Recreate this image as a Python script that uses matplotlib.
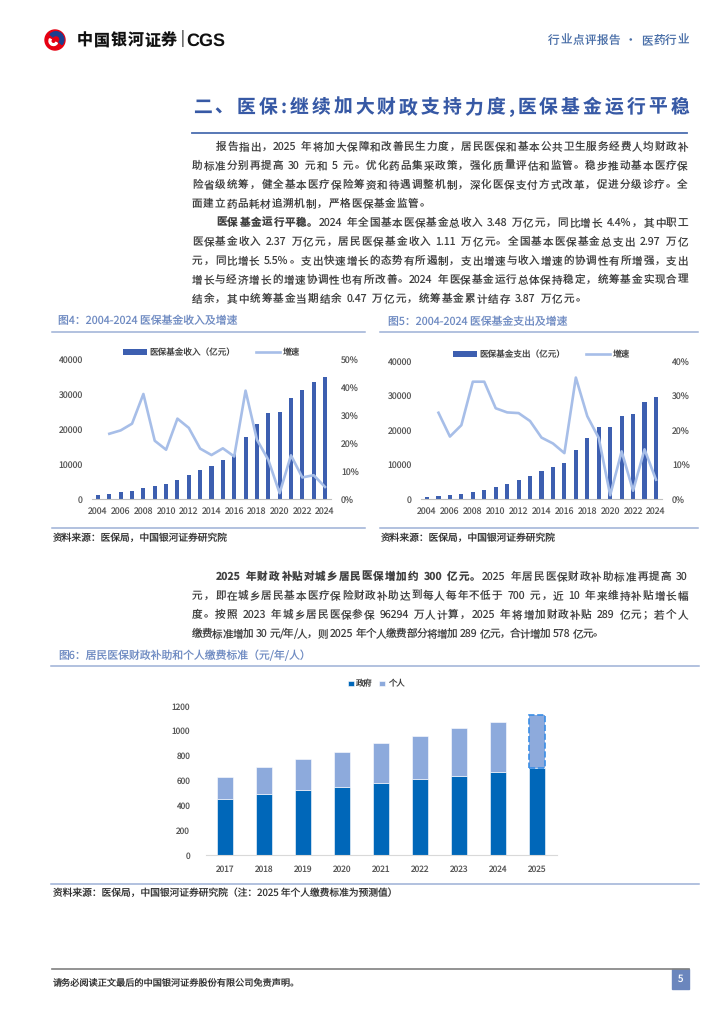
import numpy as np
import matplotlib
matplotlib.use("Agg")
import matplotlib.pyplot as plt
from matplotlib.lines import Line2D
from matplotlib.patches import Circle, Wedge, Rectangle

plt.rcParams['font.family'] = ['Noto Sans CJK SC', 'DejaVu Sans']
# the autohinter shifts some CJK glyphs vertically; keep outlines as designed
plt.rcParams['text.hinting'] = 'no_hinting'
plt.rcParams['text.hinting_factor'] = 1

W, H, DPI = 724, 1024, 100

# ---- data ----
years = list(range(2004, 2025))
income = [1140, 1520, 1900, 2380, 3050, 3800, 4380, 5520, 6950, 8280, 9520,
          11240, 13000, 17800, 21400, 24500, 24950, 28860, 31050, 33500, 34860]
income_growth = [23.3, 24.5, 26.9, 37.5, 20.8, 17.6, 28.7, 25.4, 18.0, 15.7,
                 18.1, 15.2, 38.7, 21.2, 14.0, 2.1, 15.6, 7.7, 8.5, 4.3]   # from 2005
expense = [620, 1000, 1280, 1560, 2050, 2700, 3400, 4450, 5550, 6800, 8000,
           9250, 10500, 14300, 17800, 20800, 20900, 23950, 24500, 28100, 29600]
expense_growth = [25.0, 18.1, 21.4, 34.0, 34.0, 26.3, 25.1, 24.9, 22.6, 17.8,
                  16.1, 13.3, 35.2, 24.0, 17.7, 1.1, 13.8, 2.4, 14.4, 5.6]  # from 2005

years6 = ['2017', '2018', '2019', '2020', '2021', '2022', '2023', '2024', '2025']
gov = [450, 490, 520, 550, 580, 610, 640, 670, 700]
personal = [180, 220, 250, 280, 320, 350, 380, 400, 430]

# ---- colours ----
BAR = '#3D5FB0'
LINE = '#A7BEE8'
GOV = '#0067B9'
PER = '#8DAADC'
TITLE = '#3759A5'
CAP = '#6F8BC2'
RULE = '#9DB0D6'
TXT = '#404040'
TICK = '#595959'

fig = plt.figure(figsize=(W / DPI, H / DPI), dpi=DPI)
renderer = fig.canvas.get_renderer()


def fy(y):
    return 1 - y / H


def box(x0, y0, x1, y1):
    return [x0 / W, 1 - y1 / H, (x1 - x0) / W, (y1 - y0) / H]


def hline(x0, x1, y, color, lw):
    fig.add_artist(Line2D([x0 / W, x1 / W], [fy(y), fy(y)],
                          transform=fig.transFigure, color=color, lw=lw))


# body text is placed token by token so each line can be justified
PUNCT = set('，。；：、')
_cache = {}


def split_tokens(s):
    out, buf = [], ''
    for ch in s:
        if ch.isascii() and ch not in ' :,':
            buf += ch
        else:
            if buf:
                out.append(buf)
                buf = ''
            out.append(ch)
    if buf:
        out.append(buf)
    return out


def tok_width(tok, size, weight):
    key = (tok, size, weight)
    if key not in _cache:
        em = size * DPI / 72
        if tok == ' ':
            _cache[key] = em * 0.28
        else:
            t = fig.text(0, 0, tok, fontsize=size, fontweight=weight)
            w = t.get_window_extent(renderer).width
            t.remove()
            if tok in PUNCT:
                w = max(w, em * 0.9)
            _cache[key] = w
    return _cache[key]


def put_line(x0, y, segs, size, x1=None, gap=0.8, color=TXT, min_gap=-0.4):
    toks = []
    for s, bold in segs:
        for tk in split_tokens(s):
            toks.append((tk, 'bold' if bold else 'normal'))
    widths = [tok_width(t, size, w) for t, w in toks]
    if x1 is not None and len(toks) > 1:
        gap = max(min_gap, (x1 - x0 - sum(widths)) / (len(toks) - 1))
    base = y + size * DPI / 72 * 0.36
    x = x0
    for (t, w), wd in zip(toks, widths):
        if t != ' ':
            fig.text(x / W, fy(base), t, fontsize=size, fontweight=w,
                     color=color, va='baseline', ha='left')
        x += wd + gap


# ---- header ----
lg = fig.add_axes(box(44, 29, 66, 51))
lg.set_xlim(-1.1, 1.1)
lg.set_ylim(-1.1, 1.1)
lg.set_aspect('equal')
lg.axis('off')
lg.add_patch(Circle((0, 0), 1, color='#E60012'))
lg.add_patch(Wedge((0.1, 0.05), 0.78, -40, 140, width=0.38, color='#1B3F8F'))
lg.add_patch(Wedge((-0.15, -0.1), 0.45, 150, 330, width=0.18, color='white'))

put_line(77, 40, [('中国银河证券', True)], 11.5, x1=177, color='#111111')
fig.text(180 / W, fy(40), '|', fontsize=12, color='#555555', va='center', ha='left',
         family='DejaVu Sans')
fig.text(186 / W, fy(41), 'CGS', fontsize=13, fontweight='bold', color='#111111',
         va='center', ha='left', family='Liberation Sans')
put_line(548, 40, [('行业点评报告 · 医药行业', False)], 8.3, x1=689, color='#4A6FA8')

# ---- section title ----
put_line(193, 106, [('二、医保:继续加大财政支持力度,医保基金运行平稳', True)], 13.5,
         x1=689, color=TITLE)
hline(192, 687, 133, '#4A6DB0', 1.3)

# ---- paragraphs ----
FS = 7.6
L, R, IND = 192, 688, 216
para_lines = [
    (IND, 146, [('报告指出，2025 年将加大保障和改善民生力度，居民医保和基本公共卫生服务经费人均财政补', False)], R),
    (L, 165, [('助标准分别再提高 30 元和 5 元。优化药品集采政策，强化质量评估和监管。稳步推动基本医疗保', False)], R),
    (L, 184, [('险省级统筹，健全基本医疗保险筹资和待遇调整机制，深化医保支付方式改革，促进分级诊疗。全', False)], R),
    (L, 203, [('面建立药品耗材追溯机制，严格医保基金监管。', False)], 430),
    (IND, 222, [('医保基金运行平稳。', True),
                ('2024 年全国基本医保基金总收入 3.48 万亿元，同比增长 4.4%，其中职工', False)], R),
    (L, 241, [('医保基金收入 2.37 万亿元，居民医保基金收入 1.11 万亿元。全国基本医保基金总支出 2.97 万亿', False)], R),
    (L, 260, [('元，同比增长 5.5%。支出快速增长的态势有所遏制，支出增速与收入增速的协调性有所增强，支出', False)], R),
    (L, 279, [('增长与经济增长的增速协调性也有所改善。2024 年医保基金运行总体保持稳定，统筹基金实现合理', False)], R),
    (L, 298, [('结余，其中统筹基金当期结余 0.47 万亿元，统筹基金累计结存 3.87 万亿元。', False)], 586),
    (IND, 576, [('2025 年财政补贴对城乡居民医保增加约 300 亿元。', True),
                ('2025 年居民医保财政补助标准再提高 30', False)], R),
    (L, 595, [('元，即在城乡居民基本医疗保险财政补助达到每人每年不低于 700 元，近 10 年来维持补贴增长幅', False)], R),
    (L, 614, [('度。按照 2023 年城乡居民医保参保 96294 万人计算，2025 年将增加财政补贴 289 亿元；若个人', False)], R),
    (L, 633, [('缴费标准增加 30 元/年/人，则 2025 年个人缴费部分将增加 289 亿元，合计增加 578 亿元。', False)], 578),
]
for x0, y, segs, x1 in para_lines:
    put_line(x0, y, segs, FS, x1=x1)


# ---- helpers for charts ----
def clean(ax):
    for s in ['top', 'left', 'right']:
        ax.spines[s].set_visible(False)
    ax.spines['bottom'].set_color('#BFBFBF')
    ax.spines['bottom'].set_linewidth(0.8)
    ax.patch.set_alpha(0)


def growth_chart(x0, y0, x1, y1, bars, growth, rmax, label, lpad, rpad):
    ax = fig.add_axes(box(x0, y0, x1, y1))
    x = np.arange(len(years))
    b = ax.bar(x, bars, width=0.36, color=BAR, label=label)
    ax.set_xlim(-0.5, len(years) - 0.5)
    ax.set_ylim(0, 40000)
    ax.set_yticks(range(0, 40001, 10000))
    ax.set_xticks(x[::2])
    ax.set_xticklabels([str(v) for v in years[::2]])
    clean(ax)
    ax.tick_params(axis='y', length=0, pad=lpad, labelsize=6.3, labelcolor=TICK)
    ax.tick_params(axis='x', length=0, pad=5.5, labelsize=6.3, labelcolor=TICK)
    axr = ax.twinx()
    ln, = axr.plot(x[1:], growth, color=LINE, lw=1.9, label='增速')
    axr.set_ylim(0, rmax)
    axr.set_yticks(range(0, rmax + 1, 10))
    axr.set_yticklabels([f'{v}%' for v in range(0, rmax + 1, 10)])
    for s in ['top', 'left', 'right', 'bottom']:
        axr.spines[s].set_visible(False)
    axr.tick_params(axis='y', length=0, pad=rpad, labelsize=6.3, labelcolor=TICK)
    ax.legend([b, ln], [label, '增速'], loc='center', bbox_to_anchor=(0.5, 1.045),
              ncol=2, frameon=False, fontsize=6.2, handlelength=2.8,
              handletextpad=0.3, columnspacing=2.4, labelcolor='#404040')
    return ax


# ---- figure 4 ----
fig.text(58 / W, fy(321), '图4：2004-2024 医保基金收入及增速', fontsize=7.8, color=CAP,
         va='center', ha='left')
hline(52, 365, 332, RULE, 1.1)
growth_chart(92.3, 359, 330.7, 499, income, income_growth, 50, '医保基金收入（亿元）', 6.7, 7.4)
hline(52, 365, 528, RULE, 1.1)
fig.text(53 / W, fy(538), '资料来源：医保局，中国银河证券研究院', fontsize=7, color='#333333',
         va='center', ha='left')

# ---- figure 5 ----
fig.text(388 / W, fy(322), '图5：2004-2024 医保基金支出及增速', fontsize=7.8, color=CAP,
         va='center', ha='left')
hline(380, 698, 332, RULE, 1.1)
growth_chart(421.3, 361, 661.7, 499, expense, expense_growth, 40, '医保基金支出（亿元）', 6.7, 7.4)
hline(380, 698, 528, RULE, 1.1)
fig.text(381 / W, fy(538), '资料来源：医保局，中国银河证券研究院', fontsize=7, color='#333333',
         va='center', ha='left')

# ---- figure 6 ----
fig.text(58 / W, fy(656), '图6：居民医保财政补助和个人缴费标准（元/年/人）', fontsize=7.8,
         color=CAP, va='center', ha='left')
hline(51, 699, 666, RULE, 1.1)
ax6 = fig.add_axes(box(205.5, 706, 556.5, 855))
x6 = np.arange(len(years6))
bg = ax6.bar(x6, gov, width=0.41, color=GOV, edgecolor='white', linewidth=0.4, label='政府')
bp = ax6.bar(x6[:-1], personal[:-1], bottom=gov[:-1], width=0.41, color=PER,
             edgecolor='white', linewidth=0.4, label='个人')
ax6.bar(x6[-1:], personal[-1:], bottom=gov[-1:], width=0.41, color=PER,
        edgecolor='#3A8EE6', linewidth=1.2, linestyle='--')
ax6.set_xlim(-0.5, len(years6) - 0.5)
ax6.set_ylim(0, 1200)
ax6.set_yticks(range(0, 1201, 200))
ax6.set_xticks(x6)
ax6.set_xticklabels(years6)
clean(ax6)
ax6.spines['bottom'].set_color('#D9D9D9')
ax6.tick_params(axis='y', length=0, pad=11, labelsize=6, labelcolor=TICK)
ax6.tick_params(axis='x', length=0, pad=7.5, labelsize=6, labelcolor=TICK)
ax6.legend([bg, bp], ['政府', '个人'], loc='center', bbox_to_anchor=(0.486, 1.148),
           ncol=2, frameon=False, fontsize=6, handlelength=0.7, handleheight=0.7,
           handletextpad=0.3, columnspacing=0.8, labelcolor='#404040')
hline(51, 699, 884, RULE, 1.1)
fig.text(53 / W, fy(893), '资料来源：医保局，中国银河证券研究院（注：2025 年个人缴费标准为预测值）',
         fontsize=7, color='#333333', va='center', ha='left')

# ---- footer ----
hline(52, 689, 969, '#808080', 1.2)
fig.text(53 / W, fy(982), '请务必阅读正文最后的中国银河证券股份有限公司免责声明。', fontsize=6.6,
         color='#333333', va='center', ha='left')
fig.add_artist(Rectangle((672 / W, fy(989)), 17 / W, 20 / H, transform=fig.transFigure,
                         color='#6B86BD'))
fig.text(680.5 / W, fy(979), '5', fontsize=7, color='white', va='center', ha='center')

fig.savefig('out.png', dpi=DPI)
